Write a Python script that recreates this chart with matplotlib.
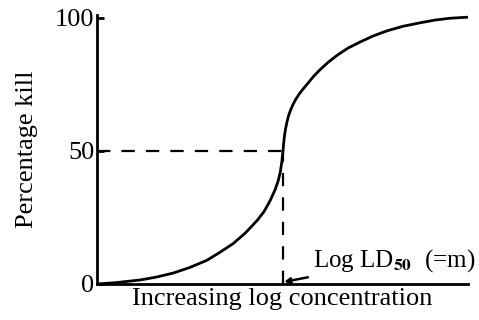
import matplotlib.pyplot as plt
import numpy as np

plt.rcParams['font.family'] = 'Liberation Serif'
plt.rcParams['mathtext.fontset'] = 'stix'

# curve (x: arbitrary log-concentration units, y: % kill)
log_conc = [0, 5, 11.6, 16, 20.5, 25, 29.6, 33, 36.7, 40, 43.1, 45, 46.6, 48, 48.8,
            49.4, 49.8, 50.1, 50.3, 50.5, 50.8, 51.2, 51.6, 52.2, 52.8, 53.6, 54.5,
            55.5, 56.7, 58.3, 60.1, 62.3, 64.7, 67.5, 70.9, 74.5, 78.2, 82.5, 87.1,
            91, 95.1, 100]
pct_kill = [0, 0.5, 1.5, 2.6, 4.1, 6.2, 8.9, 11.8, 15.2, 19.2, 23.8, 27.2, 31.2, 35.5, 38.7,
            42.2, 46.0, 50, 53.0, 55.6, 58.3, 61.0, 63.2, 65.5, 67.4, 69.5, 71.4,
            73.2, 75.2, 77.9, 80.5, 83.3, 85.9, 88.5, 90.9, 93.2, 95.1, 96.8, 98.1,
            99.1, 99.8, 100.2]
ld50 = 50.1
yticks = [0, 50, 100]

fig = plt.figure(figsize=(4.79, 3.20), dpi=100)
ax = fig.add_axes([0.2025, 0.1125, 0.775, 0.8405])

ax.plot(log_conc, pct_kill, color='black', linewidth=2.0, solid_joinstyle='round')
ax.plot([0, ld50], [50, 50], color='black', linewidth=1.6, dashes=(6, 5))
ax.plot([ld50, ld50], [0, 50], color='black', linewidth=1.6, dashes=(6, 5))

ax.set_xlim(0, 100)
ax.set_ylim(0, 101)
ax.spines['top'].set_visible(False)
ax.spines['right'].set_visible(False)
ax.spines['left'].set_linewidth(2)
ax.spines['bottom'].set_linewidth(2)
ax.set_xticks([])
ax.set_yticks(yticks)
ax.tick_params(axis='y', direction='in', length=5, width=2, pad=2, labelsize=19)

ax.set_ylabel('Percentage kill', fontsize=19, labelpad=12)
ax.set_xlabel('Increasing log concentration', fontsize=19, labelpad=3)

ax.annotate(r'Log LD$_{\mathbf{50}}$  (=m)', xy=(ld50 + 0.3, 0.8), xytext=(58.3, 8.8),
            fontsize=18, va='center', ha='left',
            arrowprops=dict(arrowstyle='-|>', color='black', lw=1.8,
                            shrinkA=2, shrinkB=0, mutation_scale=8))

fig.savefig('out.png', dpi=100)
